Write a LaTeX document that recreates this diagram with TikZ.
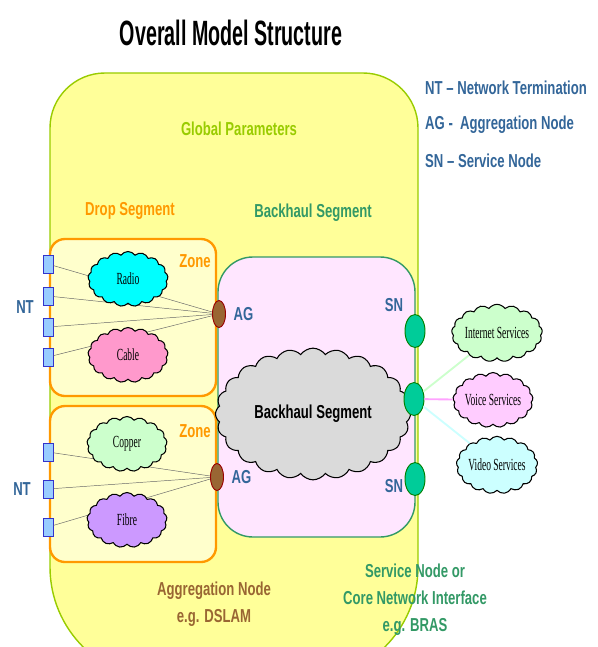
\documentclass[tikz,border=0pt]{standalone}
\usepackage{fontspec}
\setmainfont{Liberation Sans}
\newfontfamily\narrow{Liberation Sans}[FakeStretch=0.7]
\newfontfamily\titlefont{Liberation Sans}[FakeStretch=0.56]
\newfontfamily\cloudfont{Liberation Serif}[FakeStretch=0.56]
\usetikzlibrary{shapes.geometric,shapes.symbols,positioning}

\definecolor{gpfill}{HTML}{FFFF99}
\definecolor{gpline}{HTML}{99CC00}
\definecolor{zonefill}{HTML}{FFFFCC}
\definecolor{zoneline}{HTML}{FF9900}
\definecolor{bhfill}{HTML}{FFE6FF}
\definecolor{bhline}{HTML}{339966}
\definecolor{navy}{HTML}{336699}
\definecolor{dslam}{HTML}{996633}
\definecolor{ntfill}{HTML}{99CCFF}
\definecolor{ntline}{HTML}{3333CC}
\definecolor{agfill}{HTML}{996633}
\definecolor{agline}{HTML}{990000}
\definecolor{snfill}{HTML}{00CC99}
\definecolor{snline}{HTML}{008000}
\definecolor{radiofill}{HTML}{00FFFF}
\definecolor{cablefill}{HTML}{FF99CC}
\definecolor{copperfill}{HTML}{CCFFCC}
\definecolor{fibrefill}{HTML}{CC99FF}
\definecolor{inetfill}{HTML}{CCFFCC}
\definecolor{voicefill}{HTML}{FFCCFF}
\definecolor{videofill}{HTML}{CCFFFF}
\definecolor{cloudgray}{HTML}{DADADA}

\begin{document}
\begin{tikzpicture}[x=0.03cm,y=0.03cm,
  lbl/.style={font=\narrow\bfseries\fontsize{16}{23}\selectfont, align=center},
  nt/.style={draw=ntline, fill=ntfill, line width=0.8pt, inner sep=0pt, minimum width=0.3cm, minimum height=0.54cm},
  ag/.style={ellipse, draw=agline, fill=agfill, line width=0.8pt, inner sep=0pt, minimum width=0.39cm, minimum height=0.81cm},
  sn/.style={ellipse, draw=snline, fill=snfill, line width=0.8pt, inner sep=0pt, minimum width=0.6cm, minimum height=0.99cm},
  puff/.style={cloud, cloud puffs=17, cloud puff arc=110, cloud ignores aspect, draw, line width=0.9pt, inner sep=0pt,
    minimum width=2.4cm, minimum height=1.65cm, font=\cloudfont\fontsize{14.5}{16}\selectfont},
  feed/.style={draw=black!60, line width=0.4pt},
  svc/.style={line width=1.6pt}]
\useasboundingbox (0,0) rectangle (598,-647);

% global parameters area
\draw[draw=gpline, fill=gpfill, line width=1.2pt] (50,-300) -- (50,-128)
  arc[start angle=180, end angle=90, radius=55] -- (363,-73)
  arc[start angle=90, end angle=0, radius=55] -- (418,-567)
  arc[start angle=0, end angle=-90, radius=113] -- (163,-680)
  arc[start angle=270, end angle=180, radius=113] -- cycle;

% drop zones and backhaul segment
\draw[draw=zoneline, fill=zonefill, line width=2pt, rounded corners=0.45cm] (50,-239) rectangle (216,-396);
\draw[draw=zoneline, fill=zonefill, line width=2pt, rounded corners=0.45cm] (50,-406) rectangle (216,-562);
\draw[draw=bhline, fill=bhfill, line width=1.2pt, rounded corners=1.05cm] (218,-257) rectangle (415,-537);

\node[font=\titlefont\bfseries\fontsize{30}{34}\selectfont] (title) at (231,-33) {Overall Model Structure};
\node[lbl, gpline] (global) at (239,-129) {Global Parameters};
\node[lbl, zoneline] (drop) at (130,-211) {Drop Segment};
\node[lbl, bhline] (backhaul) at (313,-213) {Backhaul Segment};
\node[lbl, zoneline] (zone1) at (195,-261) {Zone};
\node[lbl, zoneline] (zone2) at (195,-431) {Zone};
\foreach \n/\y/\t in {ntkey/88/NT – Network Termination, agkey/125/AG -\ \ Aggregation Node, snkey/161/SN – Service Node}
  \node[lbl, navy, anchor=west, inner sep=0pt] (\n) at (425,-\y) {\t};
\node[lbl, dslam] (dslamtext) at (214,-604) {Aggregation Node\\e.g. DSLAM};
\node[lbl, bhline] (brastext) at (415,-600) {Service Node or\\Core Network Interface\\e.g. BRAS};

% backhaul cloud
\node[cloud, cloud puffs=24, cloud puff arc=110, cloud ignores aspect, draw=black, fill=cloudgray, line width=0.9pt, inner sep=0pt,
  minimum width=5.85cm, minimum height=3.95cm, lbl, text=black] (bhcloud) at (313,-414) {Backhaul Segment};

% network terminations and aggregation nodes
\foreach \i/\y in {1/264,2/296,3/327,4/357,5/452,6/489,7/527}
  \node[nt] (nt\i) at (48,-\y) {};
\node[ag] (ag1) at (219,-314) {};
\node[ag] (ag2) at (217,-477) {};
\node[lbl, navy, right=3pt of ag1] (ag1text) {AG};
\node[lbl, navy, right=3pt of ag2] (ag2text) {AG};
\node[lbl, navy] (nt1text) at (25,-307) {NT};
\node[lbl, navy] (nt2text) at (22,-489) {NT};

\foreach \i in {1,...,4}
  \draw[feed] (nt\i) -- (ag1);
\foreach \i in {5,6,7}
  \draw[feed] (nt\i) -- (ag2);

\node[puff, fill=radiofill] (radio) at (128,-279) {Radio};
\node[puff, fill=cablefill] (cable) at (128,-355) {Cable};
\node[puff, fill=copperfill] (copper) at (127,-444) {Copper};
\node[puff, fill=fibrefill] (fibre) at (127,-520) {Fibre};

% service nodes
\node[sn] (sn1) at (415,-331) {};
\node[sn] (sn2) at (414,-399) {};
\node[sn] (sn3) at (415,-479) {};
\node[lbl, navy] (sn1text) at (394,-305) {SN};
\node[lbl, navy] (sn3text) at (394,-486) {SN};

\node[puff, fill=inetfill, minimum height=1.72cm] (inet) at (497,-333) {Internet Services};
\node[puff, fill=voicefill, minimum height=1.65cm] (voice) at (493,-400) {Voice Services};
\node[puff, fill=videofill, minimum height=1.72cm] (video) at (497,-465) {Video Services};

\draw[svc, inetfill] (sn2) -- (inet);
\draw[svc, voicefill!80!magenta] (sn2) -- (voice);
\draw[svc, videofill] (sn2) -- (video);
\end{tikzpicture}
\end{document}
